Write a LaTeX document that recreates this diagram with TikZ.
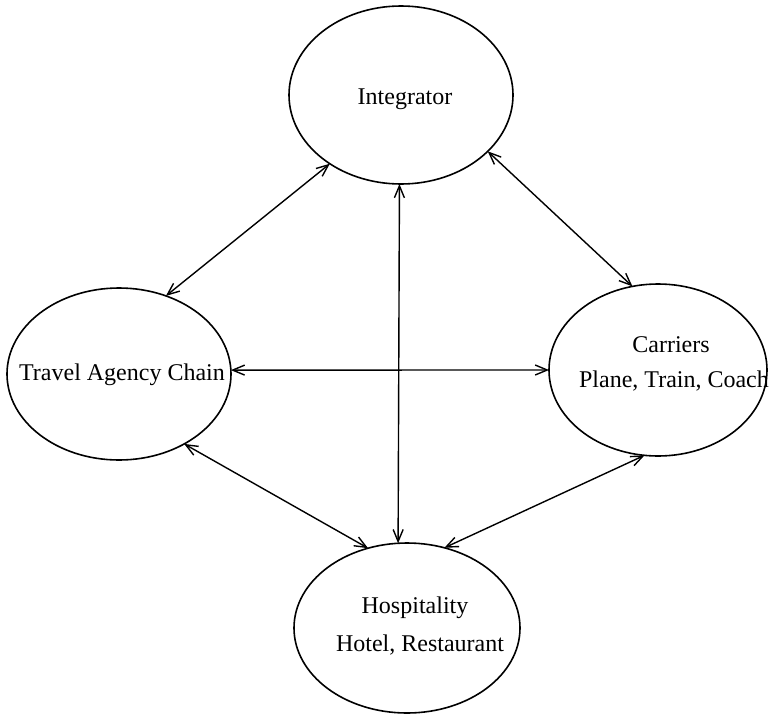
\documentclass[tikz,border=0pt]{standalone}
\usepackage{fontspec}
\setmainfont{Liberation Serif}
\usetikzlibrary{shapes.geometric,arrows.meta}
\begin{document}
\begin{tikzpicture}[x=1pt,y=-1pt,
  party/.style={draw,ellipse,line width=1.6pt,inner sep=0pt,outer sep=0pt},
  lbl/.style={anchor=base,inner sep=0pt,font=\fontsize{24}{28}\selectfont},
  link/.style={line width=1.4pt,{Straight Barb[length=12pt,width=10pt]}-{Straight Barb[length=12pt,width=10pt]}}]
\useasboundingbox (0,0) rectangle (771,715);
% the four parties
\node[party,minimum width=224pt,minimum height=178pt] (int) at (401,95) {};
\node[party,minimum width=224pt,minimum height=172pt] (trav) at (119,374) {};
\node[party,minimum width=218pt,minimum height=172pt] (carr) at (658,370) {};
\node[party,minimum width=226pt,minimum height=170pt] (hosp) at (407,628) {};
% their labels
\node[lbl] (tint) at (405,104) {Integrator};
\node[lbl] (ttrav) at (122,380) {Travel Agency Chain};
\node[lbl] (tcarr) at (671,352) {Carriers};
\node[lbl] (tcarr2) at (674,387) {Plane, Train, Coach};
\node[lbl] (thosp) at (415,613) {Hospitality};
\node[lbl] (thosp2) at (420,651) {Hotel, Restaurant};
% two-way links
\draw[link] (int.224.6) -- (trav.59.1);
\draw[link] (int.-33.2) -- (carr.107);
\draw[link] (int.-91.93) -- (hosp.96.07);
\draw[link] (trav.2.05) -- (carr.180);
\draw[link] (trav.-47.2) -- (hosp.116.6);
\draw[link] (carr.-99.8) -- (hosp.65.4);
\end{tikzpicture}
\end{document}
